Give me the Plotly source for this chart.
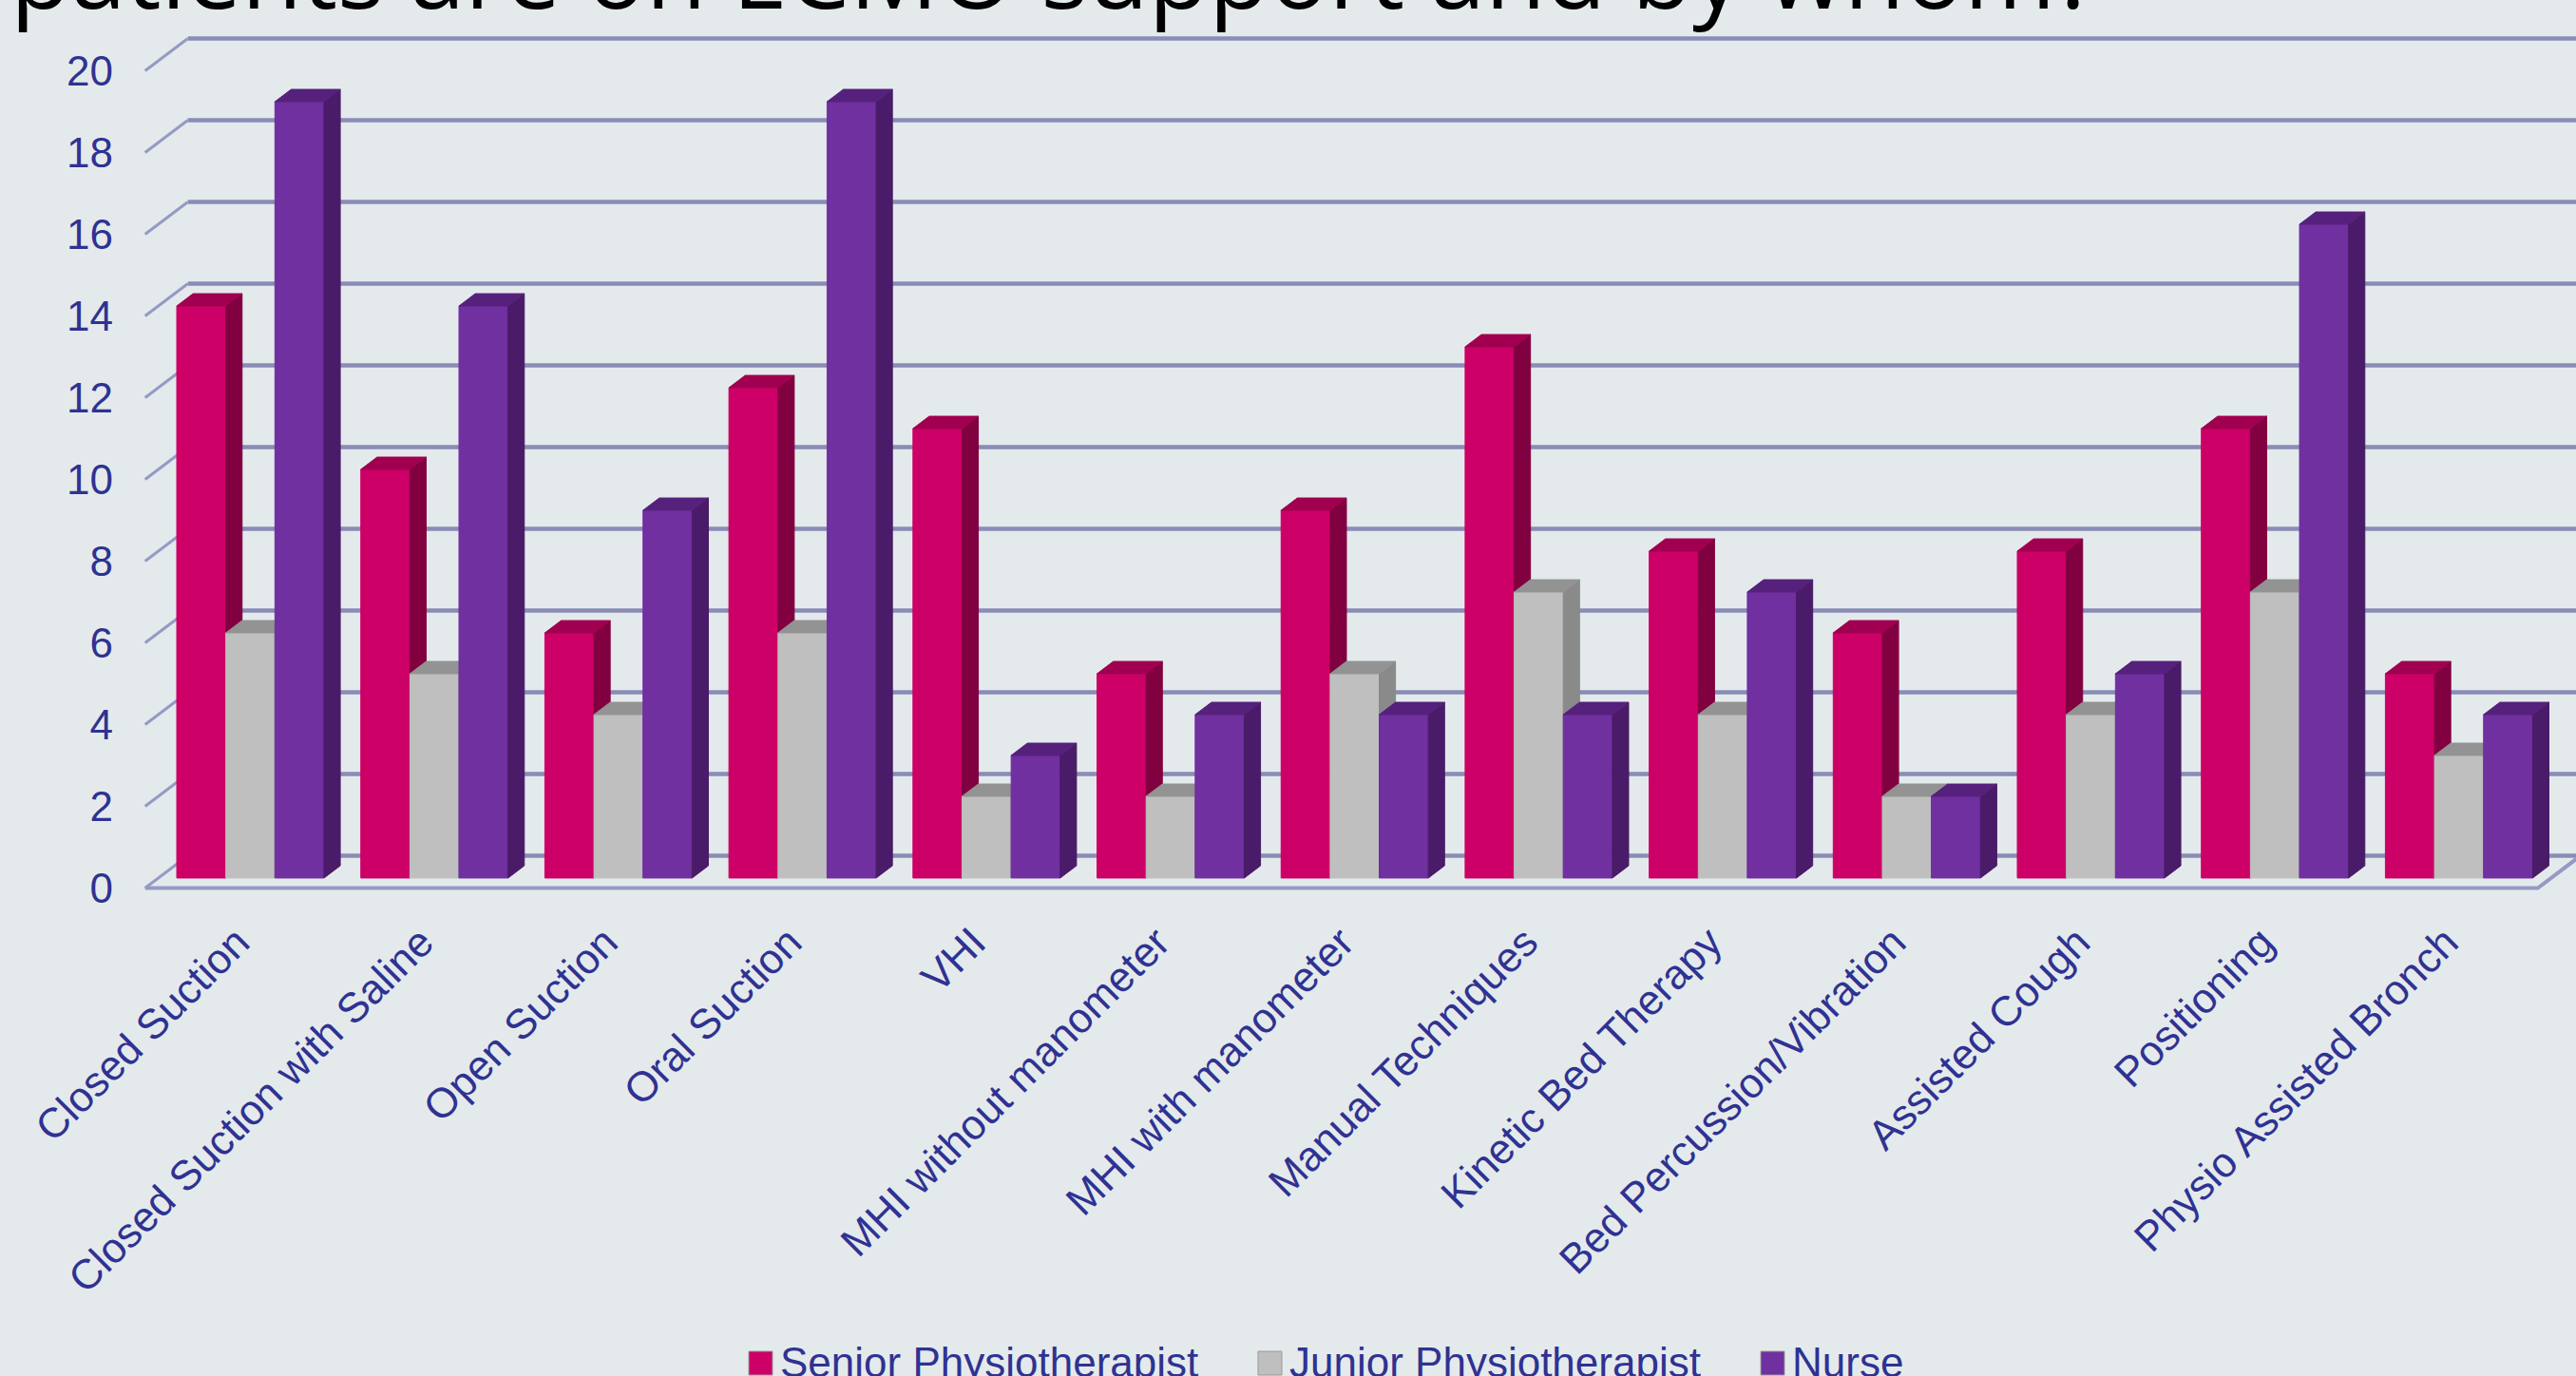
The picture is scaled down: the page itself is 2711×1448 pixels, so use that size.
import plotly.graph_objects as go

# ---------------- data ----------------
categories = ["Closed Suction", "Closed Suction with Saline", "Open Suction", "Oral Suction", "VHI",
              "MHI without manometer", "MHI with manometer", "Manual Techniques", "Kinetic Bed Therapy",
              "Bed Percussion/Vibration", "Assisted Cough", "Positioning", "Physio Assisted Bronch"]
senior = [14, 10, 6, 12, 11, 5, 9, 13, 8, 6, 8, 11, 5]
junior = [6, 5, 4, 6, 2, 2, 5, 7, 4, 2, 4, 7, 3]
nurse = [19, 14, 9, 19, 3, 4, 4, 4, 7, 2, 5, 16, 4]
series_names = ["Senior Physiotherapist", "Junior Physiotherapist", "Nurse"]
y_ticks = [0, 2, 4, 6, 8, 10, 12, 14, 16, 18, 20]
title_text = "patients are on ECMO support and by whom?"

# ---------------- style ----------------
W, H = 2711, 1448
BG = "#E4EAEC"
TXT = "#2F3292"
GRID = "#8A8CB6"
DIAG = "#9799C4"
front_cols = ["#CC0066", "#BFBFBF", "#7030A0"]
side_cols = ["#800040", "#8A8A8A", "#4A1B68"]
top_cols = ["#A0004F", "#939393", "#56217C"]

# 3D projection (depth vector, in axis units)
DX, DY = 45 / 193.7, 34 / 43.0
F0, BD = 0.31, 0.38          # bar front plane fraction and bar depth fraction
BAR_W = 0.8 / 3

n = len(categories)
values = [senior, junior, nurse]

fig = go.Figure()

# back wall grid lines and left wall diagonals
gx, gy, dx_, dy_ = [], [], [], []
for v in y_ticks:
    gx += [-0.5 + DX, n - 0.5 + DX + 1, None]
    gy += [v + DY, v + DY, None]
    dx_ += [-0.5, -0.5 + DX, None]
    dy_ += [v, v + DY, None]
fig.add_trace(go.Scatter(x=gx, y=gy, mode="lines", line=dict(color=GRID, width=4.5),
                         hoverinfo="skip", showlegend=False))
fig.add_trace(go.Scatter(x=dx_, y=dy_, mode="lines", line=dict(color=DIAG, width=3),
                         hoverinfo="skip", showlegend=False))
# floor front edge + right edge
fig.add_trace(go.Scatter(x=[-0.5, n - 0.5, n - 0.5 + DX], y=[0, 0, DY], mode="lines",
                         line=dict(color=DIAG, width=4), hoverinfo="skip", showlegend=False))

# bars (front, side, top faces) in painter's order
for k, vals in enumerate(values):
    fx, fy, sx, sy, tx, ty = [], [], [], [], [], []
    for i, v in enumerate(vals):
        xl = i - 0.4 + k * BAR_W + F0 * DX
        xr = xl + BAR_W
        yb = F0 * DY
        yt = v + F0 * DY
        ddx, ddy = BD * DX, BD * DY
        fx += [xl, xr, xr, xl, xl, None]
        fy += [yb, yb, yt, yt, yb, None]
        sx += [xr, xr + ddx, xr + ddx, xr, xr, None]
        sy += [yb, yb + ddy, yt + ddy, yt, yb, None]
        tx += [xl, xr, xr + ddx, xl + ddx, xl, None]
        ty += [yt, yt, yt + ddy, yt + ddy, yt, None]
    for xs, ys, col in ((fx, fy, front_cols[k]), (sx, sy, side_cols[k]), (tx, ty, top_cols[k])):
        fig.add_trace(go.Scatter(x=xs, y=ys, mode="lines", fill="toself", fillcolor=col,
                                 line=dict(color=col, width=1), hoverinfo="skip",
                                 name=series_names[k], showlegend=False))

L, R, T, B = 120, 0, 20, 498
PW, PH = W - L - R, H - T - B
px_per_cat = 193.7
px_per_val = 43.0
X0 = 152.7   # pixel of left edge of first slot on the front plane
Y0 = 934.5   # pixel of value 0 on the front plane
x_range = [(L - X0) / px_per_cat - 0.5, (W - R - X0) / px_per_cat - 0.5]
y_range = [(Y0 - (H - B)) / px_per_val, (Y0 - T) / px_per_val]


def pxx(p):
    return (p - L) / PW


def pxy(p):
    return (H - B - p) / PH


# manual legend (swatch + label)
legend_swatch_x = [788, 1324, 1853]
legend_text_x = [819, 1355, 1884]
shapes = []
annotations = []
for k, name in enumerate(series_names):
    x0 = legend_swatch_x[k]
    shapes.append(dict(type="rect", xref="paper", yref="paper",
                       x0=pxx(x0), x1=pxx(x0 + 25), y0=pxy(1447), y1=pxy(1422),
                       fillcolor=front_cols[k], line=dict(color="#9A9A9A", width=1)))
    annotations.append(dict(text=name, xref="paper", yref="paper",
                            x=pxx(legend_text_x[k]), y=pxy(1433), xanchor="left",
                            yanchor="middle", showarrow=False,
                            font=dict(size=44, color=TXT)))

annotations.append(dict(text=title_text, xref="paper", yref="paper",
                        x=pxx(9), y=pxy(41), xanchor="left", yanchor="bottom",
                        showarrow=False,
                        font=dict(family="Open Sans", size=104, color="#000000")))

fig.update_layout(
    width=W, height=H, autosize=False,
    margin=dict(l=L, r=R, t=T, b=B, pad=0, autoexpand=False),
    paper_bgcolor=BG, plot_bgcolor=BG,
    font=dict(family="Liberation Sans, Arial, sans-serif", color=TXT, size=43),
    xaxis=dict(range=x_range, showgrid=False, zeroline=False, showline=False,
               tickmode="array", tickvals=list(range(n)), ticktext=categories,
               tickangle=-45, tickfont=dict(size=44, color=TXT), ticks="",
               ticklabelstandoff=6, automargin=False),
    yaxis=dict(range=y_range, showgrid=False, zeroline=False, showline=False,
               tickmode="array", tickvals=y_ticks, ticktext=[str(v) for v in y_ticks],
               tickfont=dict(size=44, color=TXT), ticks="", automargin=False),
    showlegend=False,
    shapes=shapes,
    annotations=annotations,
)

fig.write_html("out.html")
